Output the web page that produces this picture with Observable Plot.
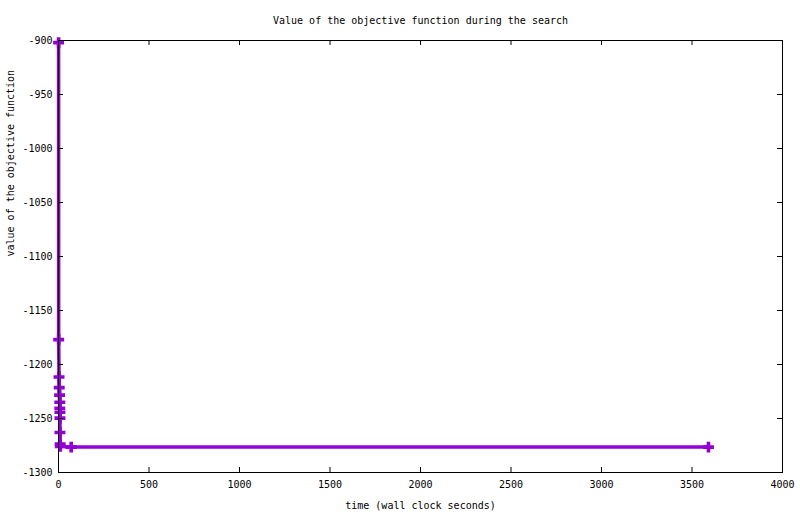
<!DOCTYPE html>
<html>
<head>
<meta charset="utf-8">
<script src="https://cdn.jsdelivr.net/npm/d3@7"></script>
<script src="https://cdn.jsdelivr.net/npm/@observablehq/plot@0.6"></script>
<style>
  html, body { margin: 0; padding: 0; background: #fff; }
  #chart svg { display: block; }
</style>
</head>
<body>
<div id="chart"></div>
<script>
// Data
const times  = [0.5, 1, 3, 4, 6, 7, 7, 8, 8, 8, 9, 10, 70, 3591];
const values = [-902, -1177, -1211.6, -1221.4, -1228.3, -1235, -1240.5, -1244.2, -1249.7, -1263, -1273.6, -1275.8, -1276.5, -1276.5];
const xTicks = [0, 500, 1000, 1500, 2000, 2500, 3000, 3500, 4000];
const yTicks = [-900, -950, -1000, -1050, -1100, -1150, -1200, -1250, -1300];
const titleText = "Value of the objective function during the search";
const xLabel = "time (wall clock seconds)";
const yLabel = "value of the objective function";

const data = times.map((t, i) => ({t, v: values[i]}));

const W = 800, H = 514;
const mL = 58, mR = 18, mT = 40, mB = 42;
const pw = W - mL - mR, ph = H - mT - mB;
const tickLen = 5;
const color = "#9400D3";
const fmt = d => String(d);

const chart = Plot.plot({
  width: W,
  height: H,
  marginLeft: mL,
  marginRight: mR,
  marginTop: mT,
  marginBottom: mB,
  style: {fontFamily: "'DejaVu Sans Mono', monospace", fontSize: "10px", background: "#fff", color: "#000"},
  x: {domain: [0, 4000]},
  y: {domain: [-1300, -900]},
  marks: [
    Plot.axisX({ticks: xTicks, tickSize: 0, tickPadding: 8, tickFormat: fmt, label: null, fontSize: 10}),
    Plot.axisY({ticks: yTicks, tickSize: 0, tickPadding: 6, tickFormat: fmt, label: null, fontSize: 10}),
    Plot.line(data, {x: "t", y: "v", stroke: color, strokeWidth: 3.5, strokeLinejoin: "miter", strokeLinecap: "butt"}),
    Plot.dot(data, {x: "t", y: "v", symbol: "cross", r: 4.6, fill: color}),
    Plot.tickX(xTicks, {x: d => d, stroke: "black", insetTop: ph - tickLen}),
    Plot.tickX(xTicks, {x: d => d, stroke: "black", insetBottom: ph - tickLen}),
    Plot.tickY(yTicks, {y: d => d, stroke: "black", insetRight: pw - tickLen}),
    Plot.tickY(yTicks, {y: d => d, stroke: "black", insetLeft: pw - tickLen}),
    Plot.frame({stroke: "black", strokeWidth: 1}),
    Plot.text([titleText], {frameAnchor: "top", dy: -24, fontSize: 10, fill: "black"}),
    Plot.text([xLabel], {frameAnchor: "bottom", dy: 36, fontSize: 10, fill: "black"}),
    Plot.text([yLabel], {frameAnchor: "left", dx: -48, rotate: -90, fontSize: 10, fill: "black"})
  ]
});
document.getElementById("chart").appendChild(chart);
</script>
</body>
</html>
